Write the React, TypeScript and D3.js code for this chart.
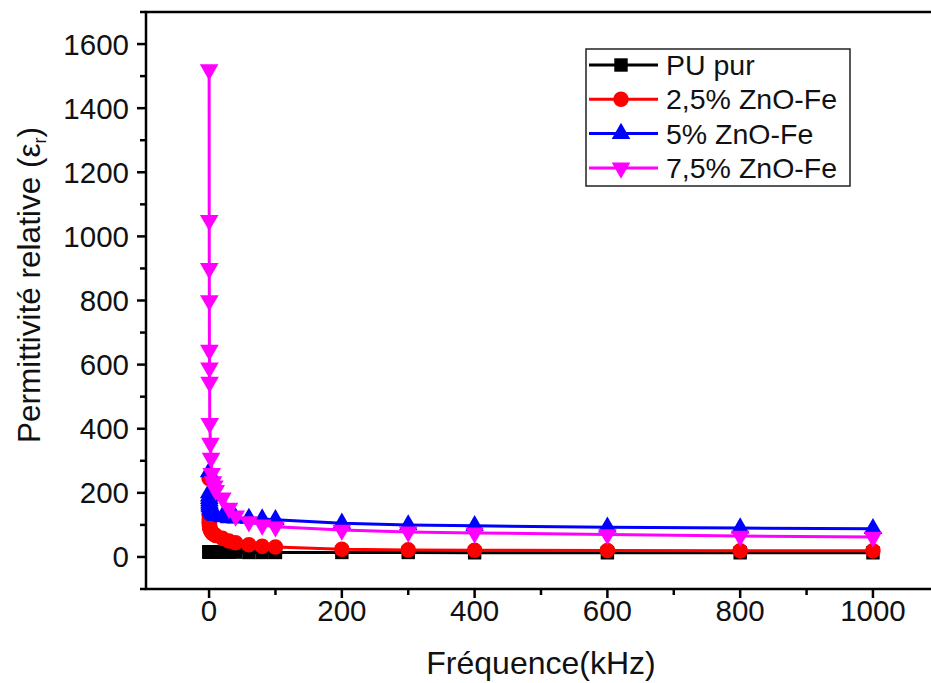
import React, { useEffect, useRef } from "react";
import * as d3 from "d3";

// frequency in kHz
const freqs = [0.1, 0.2, 0.3, 0.4, 0.5, 0.6, 0.8, 1, 2, 3, 4, 6, 8, 10, 20, 30, 40, 60, 80, 100, 200, 300, 400, 600, 800, 1000];

const puPur = [16, 16, 16, 16, 16, 16, 16, 15, 15, 15, 15, 15, 15, 15, 15, 15, 15, 14, 14, 14, 14, 14, 13, 13, 13, 13];
const zno25 = [245, 130, 118, 110, 104, 98, 94, 90, 85, 80, 76, 72, 70, 67, 58, 50, 44, 38, 33, 31, 24, 22, 21, 20, 19, 19];
const zno5 = [265, 200, 190, 182, 175, 168, 162, 156, 150, 145, 140, 136, 132, 129, 125, 122, 121, 120, 118, 116, 105, 100, 97, 93, 90, 88];
const zno75 = [1520, 1050, 900, 800, 645, 590, 545, 417, 355, 308, 261, 235, 222, 208, 184, 152, 128, 110, 100, 94, 84, 78, 75, 70, 65, 62];

const seriesNames = ["PU pur", "2,5% ZnO-Fe", "5% ZnO-Fe", "7,5% ZnO-Fe"];
const seriesColors = ["#000000", "#ff0000", "#0000ff", "#ff00ff"];
const seriesShapes = ["square", "circle", "up", "down"];

const xMajor = [0, 200, 400, 600, 800, 1000];
const xMinor = [100, 300, 500, 700, 900];
const yMajor = [0, 200, 400, 600, 800, 1000, 1200, 1400, 1600];
const yMinor = [-100, 100, 300, 500, 700, 900, 1100, 1300, 1500, 1700];

const FONT = "'Liberation Sans', Arial, sans-serif";

function symbolPath(shape: string) {
  if (shape === "square") return d3.symbol().type(d3.symbolSquare).size(180)();
  if (shape === "circle") return d3.symbol().type(d3.symbolCircle).size(190)();
  return d3.symbol().type(d3.symbolTriangle).size(150)();
}

export default function App() {
  const ref = useRef<SVGSVGElement>(null);

  useEffect(() => {
    document.body.style.margin = "0";
    const width = 931;
    const height = 683;
    const left = 146, right = 940, top = 12, bottom = 589;

    const svg = d3.select(ref.current).attr("width", width).attr("height", height);
    svg.selectAll("*").remove();

    const x = d3.scaleLinear().domain([-95, 1101]).range([left, right]);
    const y = d3.scaleLinear().domain([-100, 1700]).range([bottom, top]);

    const allSeries = [puPur, zno25, zno5, zno75];

    const plot = svg.append("g");
    const clip = svg.append("defs").append("clipPath").attr("id", "plotclip");
    clip.append("rect").attr("x", left).attr("y", top).attr("width", right - left).attr("height", bottom - top);

    const line = d3.line<number>().x((d, i) => x(freqs[i])).y(d => y(d));

    allSeries.forEach((vals, si) => {
      const g = plot.append("g").attr("clip-path", "url(#plotclip)");
      g.append("path").datum(vals).attr("d", line).attr("fill", "none")
        .attr("stroke", seriesColors[si]).attr("stroke-width", 3);
      g.selectAll("path.m").data(vals).join("path").attr("class", "m")
        .attr("d", symbolPath(seriesShapes[si]))
        .attr("fill", seriesColors[si])
        .attr("transform", (d, i) => `translate(${x(freqs[i])},${y(d)})${seriesShapes[si] === "down" ? " rotate(180)" : ""}`);
    });

    // frame
    svg.append("rect").attr("x", left).attr("y", top).attr("width", right - left).attr("height", bottom - top)
      .attr("fill", "none").attr("stroke", "#000").attr("stroke-width", 2.5);

    // ticks, pointing outward
    const axis = svg.append("g").attr("stroke", "#000").attr("stroke-width", 2.5);
    xMajor.forEach(v => axis.append("line").attr("x1", x(v)).attr("x2", x(v)).attr("y1", bottom).attr("y2", bottom + 9));
    xMinor.forEach(v => axis.append("line").attr("x1", x(v)).attr("x2", x(v)).attr("y1", bottom).attr("y2", bottom + 6));
    yMajor.forEach(v => axis.append("line").attr("x1", left).attr("x2", left - 9).attr("y1", y(v)).attr("y2", y(v)));
    yMinor.forEach(v => axis.append("line").attr("x1", left).attr("x2", left - 6).attr("y1", y(v)).attr("y2", y(v)));

    svg.append("g").selectAll("text").data(xMajor).join("text")
      .attr("x", d => x(d)).attr("y", 621).attr("text-anchor", "middle")
      .attr("font-family", FONT).attr("font-size", 29.5).attr("fill", "#111").text(d => d);

    svg.append("g").selectAll("text").data(yMajor).join("text")
      .attr("x", 129).attr("y", d => y(d) + 10.5).attr("text-anchor", "end")
      .attr("font-family", FONT).attr("font-size", 29.5).attr("fill", "#111").text(d => d);

    svg.append("text").attr("x", 541).attr("y", 674).attr("text-anchor", "middle")
      .attr("font-family", FONT).attr("font-size", 32).attr("fill", "#111").text("Fréquence(kHz)");

    const yt = svg.append("text").attr("transform", `translate(40,${285}) rotate(-90)`).attr("text-anchor", "middle")
      .attr("font-family", FONT).attr("font-size", 31.5).attr("fill", "#111");
    yt.append("tspan").text("Permittivité relative (ε");
    yt.append("tspan").attr("font-size", 18).attr("dy", 6).text("r");
    yt.append("tspan").attr("dy", -6).text(")");

    // legend
    const lg = svg.append("g");
    lg.append("rect").attr("x", 586).attr("y", 49).attr("width", 264).attr("height", 137)
      .attr("fill", "#fff").attr("stroke", "#222").attr("stroke-width", 1.5);
    seriesNames.forEach((name, i) => {
      const cy = 65 + i * 34.3;
      lg.append("line").attr("x1", 589).attr("x2", 658).attr("y1", cy).attr("y2", cy)
        .attr("stroke", seriesColors[i]).attr("stroke-width", 3);
      lg.append("path").attr("d", symbolPath(seriesShapes[i])).attr("fill", seriesColors[i])
        .attr("transform", `translate(621,${cy})${seriesShapes[i] === "down" ? " rotate(180)" : ""}`);
      lg.append("text").attr("x", 666).attr("y", cy + 10).attr("font-family", FONT).attr("font-size", 28.5)
        .attr("fill", "#111").text(name);
    });
  }, []);

  return <svg ref={ref} style={{ display: "block" }}></svg>;
}
